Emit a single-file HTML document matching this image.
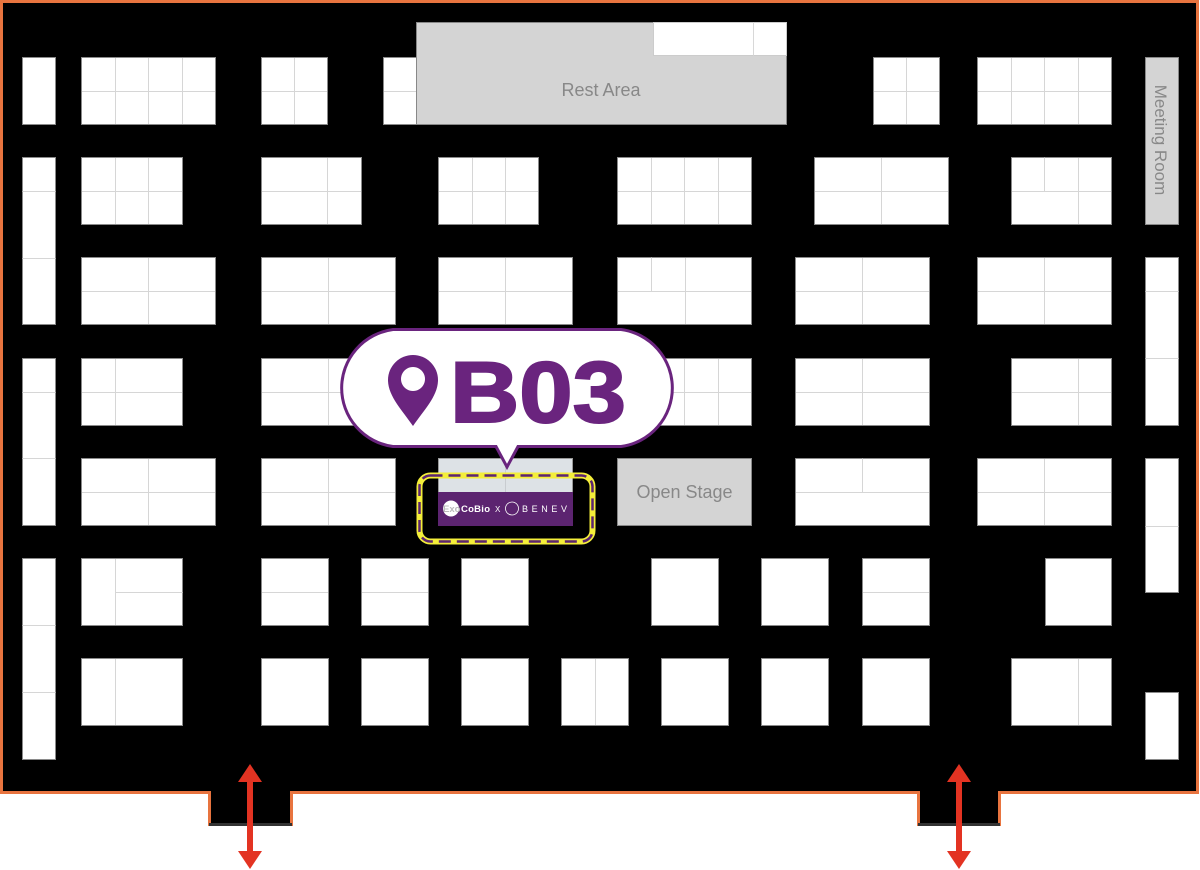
<!DOCTYPE html>
<html><head><meta charset="utf-8"><style>
html,body{margin:0;padding:0;background:#fff;width:1200px;height:870px;overflow:hidden}
svg{display:block}
</style></head><body>
<svg id="s" width="1200" height="870" viewBox="0 0 1200 870" xmlns="http://www.w3.org/2000/svg">
<path d="M1.5 1.5 H1197.5 V792.5 H999.5 V824.5 H918.5 V792.5 H291.5 V824.5 H209.5 V792.5 H1.5 Z" fill="#000" stroke="#e8743f" stroke-width="3"/>
<line x1="209" y1="824.5" x2="292" y2="824.5" stroke="#333" stroke-width="3"/>
<line x1="918" y1="824.5" x2="1000" y2="824.5" stroke="#333" stroke-width="3"/>
<g id="booths"></g>
<!-- rest area -->
<rect x="416.5" y="22.5" width="370" height="102" fill="#d4d4d4" stroke="#888"/>
<rect x="653.5" y="22.5" width="133" height="33" fill="#fff" stroke="#ccc"/>
<line x1="753.5" y1="22.5" x2="753.5" y2="55.5" stroke="#d8d8d8"/>
<text x="601" y="96" font-family="Liberation Sans, sans-serif" font-size="18" fill="#888" text-anchor="middle">Rest Area</text>
<!-- meeting room -->
<rect x="1145.5" y="57.5" width="33" height="167" fill="#d4d4d4" stroke="#888"/>
<text transform="translate(1155,140) rotate(90)" font-family="Liberation Sans, sans-serif" font-size="17" fill="#888" text-anchor="middle">Meeting Room</text>
<!-- open stage -->
<rect x="617.5" y="458.5" width="134" height="67" fill="#d4d4d4" stroke="#888"/>
<text x="684.5" y="498" font-family="Liberation Sans, sans-serif" font-size="18" fill="#888" text-anchor="middle">Open Stage</text>
<!-- B03 booth -->
<rect x="438.5" y="458.5" width="134" height="67" fill="#dde2e6" stroke="#999"/>
<line x1="505.5" y1="458.5" x2="505.5" y2="492" stroke="#c8ccd0"/>
<rect x="438" y="492" width="135" height="34" fill="#5c2470"/>
<circle cx="451" cy="508.5" r="8" fill="#fff"/>
<text x="443" y="512" font-family="Liberation Sans, sans-serif" font-size="9.5" font-weight="bold" fill="#bbb">Exo</text>
<text x="461" y="512" font-family="Liberation Sans, sans-serif" font-size="9.5" font-weight="bold" fill="#fff" textLength="29">CoBio</text>
<text x="495" y="512" font-family="Liberation Sans, sans-serif" font-size="8" fill="#fff">X</text>
<circle cx="512" cy="508.5" r="6.5" fill="none" stroke="#fff" stroke-width="0.8"/>
<text x="522" y="512" font-family="Liberation Sans, sans-serif" font-size="9" fill="#fff" textLength="45">BENEV</text>
<rect x="419.5" y="475.5" width="173" height="66" rx="11" fill="none" stroke="#f4ee3a" stroke-width="6"/>
<rect x="419.5" y="475.5" width="173" height="66" rx="11" fill="none" stroke="#5c2470" stroke-width="2.5" stroke-dasharray="12 6"/>
<!-- bubble -->
<path d="M393 329.5 H621 A59 59 0 0 1 621 446.5 H518 L507 467 L496 446.5 H393 A59 59 0 0 1 393 329.5 Z" fill="#fff" stroke="#6a247e" stroke-width="3"/>
<path d="M413 355 a25 25 0 0 1 25 25 c0 16 -14 30 -25 46 c-11 -16 -25 -30 -25 -46 a25 25 0 0 1 25 -25 Z M413 367 a12 12 0 1 0 0.01 0 Z" fill="#6a247e" fill-rule="evenodd"/>
<text x="450" y="422" font-family="Liberation Sans, sans-serif" font-size="86" font-weight="bold" fill="#6a247e" stroke="#6a247e" stroke-width="2" textLength="176" lengthAdjust="spacingAndGlyphs">B03</text>
<!-- arrows -->
<g fill="#e33322" stroke="none">
<rect x="247" y="778" width="6" height="78"/>
<polygon points="250,764 262,782 238,782"/>
<polygon points="250,869 262,851 238,851"/>
<rect x="956" y="778" width="6" height="78"/>
<polygon points="959,764 971,782 947,782"/>
<polygon points="959,869 971,851 947,851"/>
</g>
</svg>
<script>
var g=document.getElementById('booths'),NS='http://www.w3.org/2000/svg';
function el(n,a){var e=document.createElementNS(NS,n);for(var k in a)e.setAttribute(k,a[k]);g.appendChild(e);}
function B(x1,y1,x2,y2,v,h,ex){
 el('rect',{x:x1+.5,y:y1+.5,width:x2-x1,height:y2-y1,fill:'#fff',stroke:'#8a8a8a'});
 (v||[]).forEach(function(x){el('line',{x1:x+.5,y1:y1+1,x2:x+.5,y2:y2,stroke:'#d6d6d6'})});
 if(h){var m=Math.round((y1+y2)/2);el('line',{x1:x1+1,y1:m+.5,x2:x2,y2:m+.5,stroke:'#d6d6d6'});}
 (ex||[]).forEach(function(l){el('line',{x1:l[0]+.5,y1:l[1]+.5,x2:l[2]+.5,y2:l[3]+.5,stroke:'#d6d6d6'})});
}
B(22,57,55,124);
B(81,57,215,124,[115,148,182],1);
B(261,57,327,124,[294],1);
B(383,57,416,124,[],1);
B(873,57,939,124,[906],1);
B(977,57,1111,124,[1011,1044,1078],1);
B(22,157,55,324,[],0,[[22,191,55,191],[22,258,55,258]]);
B(22,358,55,525,[],0,[[22,392,55,392],[22,458,55,458]]);
B(22,558,55,759,[],0,[[22,625,55,625],[22,692,55,692]]);
B(1145,257,1178,425,[],0,[[1145,291,1178,291],[1145,358,1178,358]]);
B(1145,458,1178,592,[],0,[[1145,526,1178,526]]);
B(1145,692,1178,759);
B(81,157,182,224,[115,148],1);
B(261,157,361,224,[327],1);
B(438,157,538,224,[472,505],1);
B(617,157,751,224,[651,684,718],1);
B(814,157,948,224,[881],1);
B(1011,157,1111,224,[1078],1,[[1044,157,1044,191]]);
B(81,257,215,324,[148],1);
B(261,257,395,324,[328],1);
B(438,257,572,324,[505],1);
B(617,257,751,324,[685],1,[[651,257,651,291]]);
B(795,257,929,324,[862],1);
B(977,257,1111,324,[1044],1);
B(81,358,182,425,[115],1);
B(261,358,361,425,[328],1);
B(438,358,572,425,[505],1);
B(617,358,751,425,[684,718],1);
B(795,358,929,425,[862],1);
B(1011,358,1111,425,[1078],1);
B(81,458,215,525,[148],1);
B(261,458,395,525,[328],1);
B(795,458,929,525,[],1,[[862,458,862,492]]);
B(977,458,1111,525,[1044],1);
B(81,558,182,625,[115],0,[[115,592,182,592]]);
B(261,558,328,625,[],1);
B(361,558,428,625,[],1);
B(461,558,528,625);
B(651,558,718,625);
B(761,558,828,625);
B(862,558,929,625,[],1);
B(1045,558,1111,625);
B(81,658,182,725,[115]);
B(261,658,328,725);
B(361,658,428,725);
B(461,658,528,725);
B(561,658,628,725,[595]);
B(661,658,728,725);
B(761,658,828,725);
B(862,658,929,725);
B(1011,658,1111,725,[1078]);
</script>
</body></html>
